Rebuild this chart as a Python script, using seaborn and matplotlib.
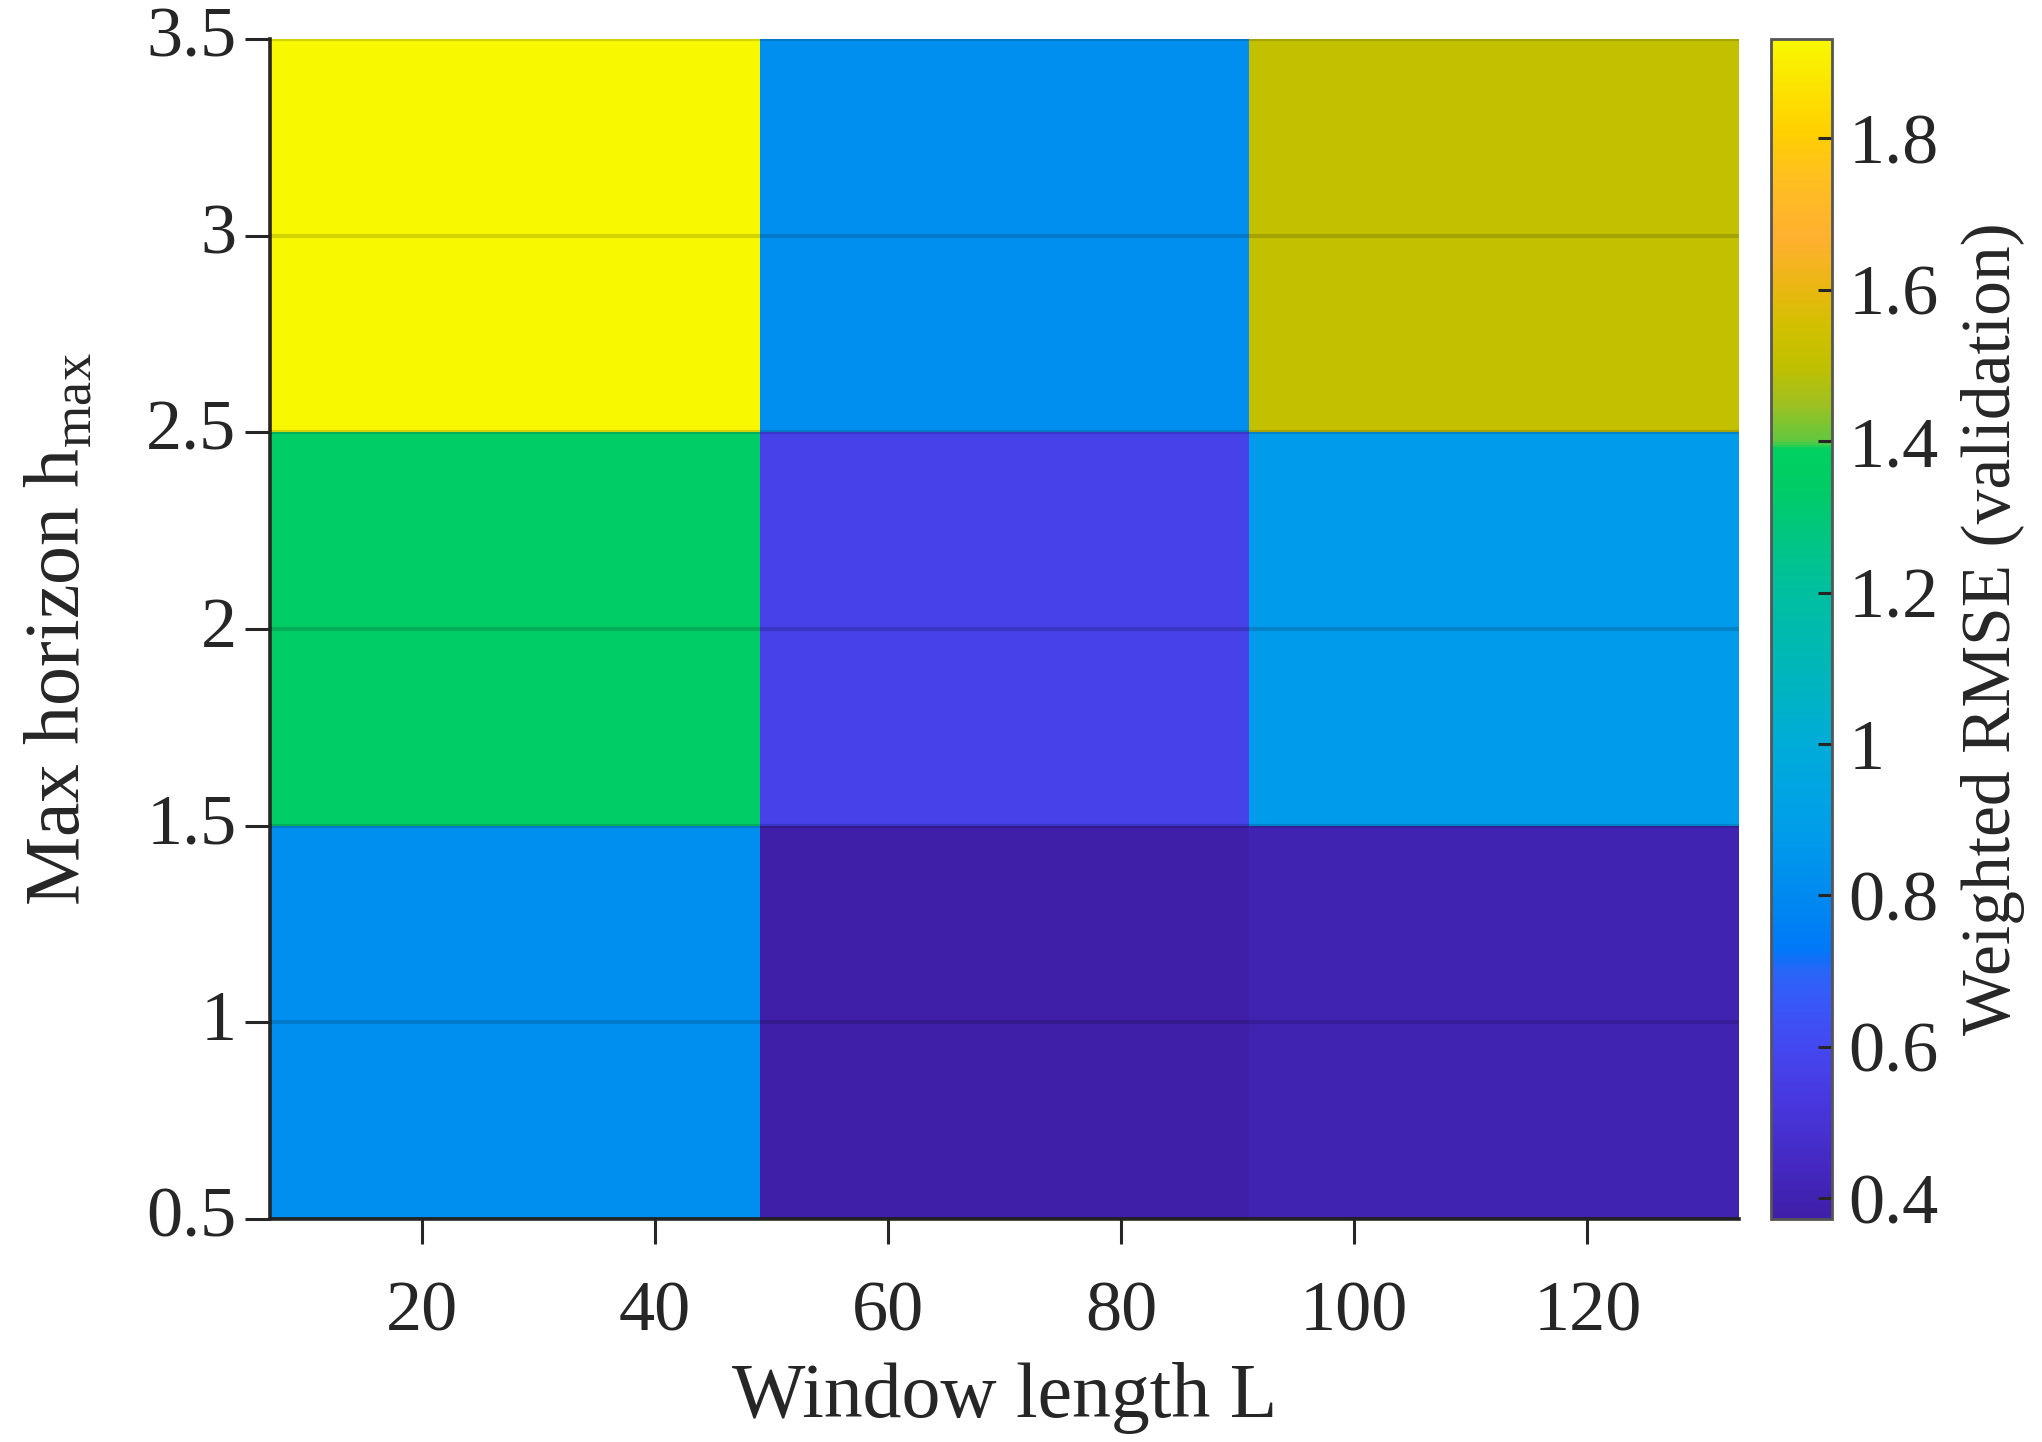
import numpy as np
import pandas as pd
import seaborn as sns
import matplotlib.pyplot as plt

from matplotlib.colors import LinearSegmentedColormap
from matplotlib.ticker import FormatStrFormatter

# Daten
window_lengths = [28, 70, 112]
max_horizons = [1, 2, 3]
rmse_h1 = [0.82, 0.373, 0.40]
rmse_h2 = [1.35, 0.57, 0.88]
rmse_h3 = [1.93, 0.82, 1.51]

x_ticks = [20, 40, 60, 80, 100, 120]
y_ticks = [0.5, 1, 1.5, 2, 2.5, 3, 3.5]
cbar_ticks = [0.4, 0.6, 0.8, 1.0, 1.2, 1.4, 1.6, 1.8]
c_min, c_max = 0.3725, 1.931

cmap_values = [0.3725, 0.44, 0.53, 0.60, 0.66, 0.70, 0.727, 0.80, 0.90, 1.0, 1.075,
               1.2, 1.34, 1.39, 1.40, 1.45, 1.50, 1.55, 1.60, 1.67, 1.75, 1.81, 1.931]
cmap_colors = ['#3f1fa8', '#4428c0', '#4838e0', '#4448f0', '#3858f8', '#2866f8', '#0078f8',
               '#008af0', '#00a0e8', '#00acd8', '#00b4c0', '#00bfa0', '#00cc66', '#00d060',
               '#60c840', '#a0c020', '#c0c000', '#d0c000', '#e8b810', '#ffb030', '#ffc020',
               '#ffd000', '#f8f800']
stops = [(v - c_min) / (c_max - c_min) for v in cmap_values]
parula_like = LinearSegmentedColormap.from_list('parula_like', list(zip(stops, cmap_colors)), N=512)

df = pd.DataFrame([rmse_h1, rmse_h2, rmse_h3], index=max_horizons, columns=window_lengths)

plt.rcParams['font.family'] = ['Liberation Serif', 'DejaVu Serif']
plt.rcParams['mathtext.fontset'] = 'custom'
plt.rcParams['mathtext.rm'] = 'Liberation Serif'

fig = plt.figure(figsize=(10.21, 7.21), dpi=200)
ax = fig.add_axes([0.1322, 0.1546, 0.7194, 0.8183])
cax = fig.add_axes([0.8673, 0.1546, 0.0299, 0.8183])

sns.heatmap(df, cmap=parula_like, vmin=c_min, vmax=c_max, ax=ax, cbar_ax=cax)
ax.invert_yaxis()

# Positionen der Achsenbeschriftung aus den Zellmitten ableiten
x0, dx = window_lengths[0], window_lengths[1] - window_lengths[0]
y0, dy = max_horizons[0], max_horizons[1] - max_horizons[0]
ax.set_xticks([(t - x0) / dx + 0.5 for t in x_ticks])
ax.set_xticklabels([f'{t:g}' for t in x_ticks], rotation=0)
ax.set_yticks([(t - y0) / dy + 0.5 for t in y_ticks])
ax.set_yticklabels([f'{t:g}' for t in y_ticks], rotation=0)

ax.set_xlabel('Window length L', fontsize=28, color='#262626', labelpad=6)
ax.set_ylabel(r'Max horizon h$_{\mathrm{max}}$', fontsize=28, color='#262626', labelpad=18)
ax.tick_params(axis='both', direction='out', length=9, width=1.1, colors='#262626',
               labelsize=26, labelcolor='#262626')
ax.tick_params(axis='x', pad=13)
ax.tick_params(axis='y', pad=3)

ax.yaxis.grid(True, color='black', alpha=0.15, linewidth=1.5)
ax.set_axisbelow(False)
for side in ['left', 'bottom']:
    ax.spines[side].set_visible(True)
    ax.spines[side].set_color('#262626')
    ax.spines[side].set_linewidth(1.3)
for side in ['top', 'right']:
    ax.spines[side].set_visible(False)

# Farbbalken
cbar = ax.collections[0].colorbar
cbar.set_ticks(cbar_ticks)
cbar.ax.yaxis.set_major_formatter(FormatStrFormatter('%g'))
cbar.ax.tick_params(direction='in', length=5, width=1.1, colors='#262626', labelsize=26, pad=6)
cbar.outline.set_visible(True)
cbar.outline.set_edgecolor('#555555')
cbar.outline.set_linewidth(1.0)
cbar.set_label('Weighted RMSE (validation)', fontsize=25, color='#262626', labelpad=8)

fig.savefig('out.png', dpi=200)
